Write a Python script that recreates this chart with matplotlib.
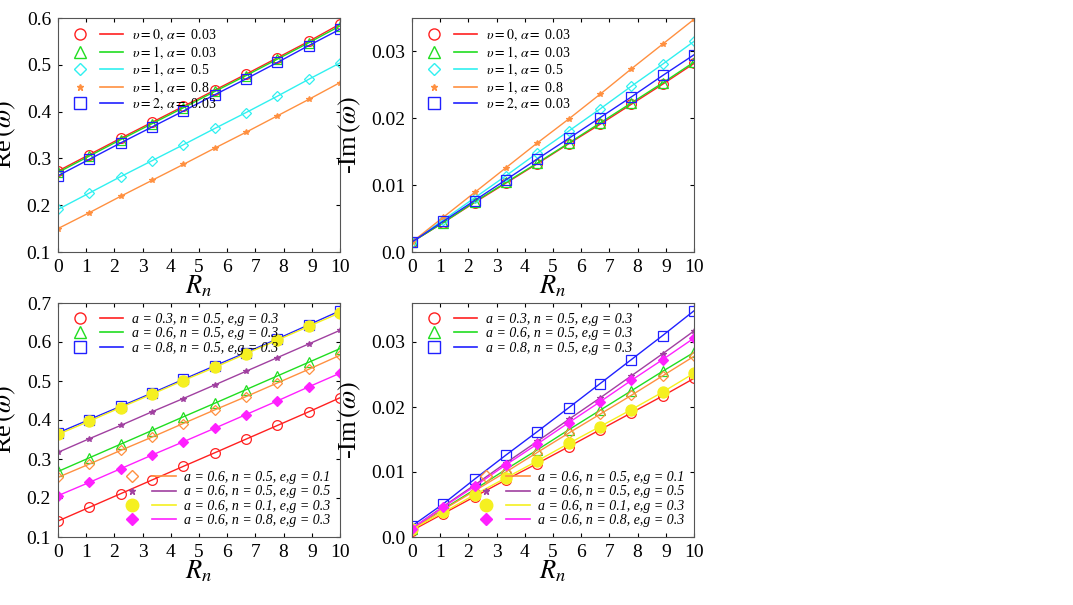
import matplotlib
matplotlib.use("Agg")
import matplotlib.pyplot as plt
from matplotlib.lines import Line2D
from matplotlib.legend_handler import HandlerTuple

plt.rcParams["font.family"] = "Liberation Serif"
plt.rcParams["mathtext.fontset"] = "stix"

rn = [0, 1.11, 2.22, 3.33, 4.44, 5.56, 6.67, 7.78, 8.89, 10]

# top left: Re(omega)
tl_v0_a003 = [0.273, 0.308, 0.343, 0.377, 0.411, 0.446, 0.480, 0.515, 0.550, 0.587]
tl_v1_a003 = [0.270, 0.305, 0.340, 0.374, 0.408, 0.443, 0.477, 0.512, 0.547, 0.583]
tl_v1_a05 = [0.191, 0.226, 0.261, 0.295, 0.329, 0.364, 0.398, 0.433, 0.469, 0.504]
tl_v1_a08 = [0.150, 0.184, 0.219, 0.253, 0.287, 0.322, 0.356, 0.391, 0.426, 0.462]
tl_v2_a003 = [0.263, 0.298, 0.333, 0.367, 0.401, 0.436, 0.470, 0.505, 0.541, 0.576]

# top right: -Im(omega), in units of 1e-2
tr_v0_a003 = [0.15, 0.44, 0.74, 1.03, 1.32, 1.62, 1.91, 2.21, 2.51, 2.82]
tr_v1_a003 = [0.15, 0.44, 0.75, 1.04, 1.33, 1.63, 1.93, 2.23, 2.53, 2.84]
tr_v1_a05 = [0.15, 0.48, 0.81, 1.14, 1.48, 1.81, 2.14, 2.48, 2.81, 3.15]
tr_v1_a08 = [0.15, 0.52, 0.89, 1.26, 1.63, 1.99, 2.36, 2.74, 3.11, 3.48]
tr_v2_a003 = [0.15, 0.46, 0.77, 1.08, 1.39, 1.70, 2.01, 2.32, 2.64, 2.95]

# bottom left: Re(omega)
bl_a03 = [0.141, 0.176, 0.211, 0.246, 0.281, 0.316, 0.351, 0.386, 0.421, 0.457]
bl_a06 = [0.268, 0.303, 0.338, 0.373, 0.408, 0.443, 0.478, 0.513, 0.548, 0.583]
bl_a08 = [0.367, 0.401, 0.435, 0.469, 0.504, 0.539, 0.573, 0.608, 0.644, 0.680]
bl_eg01 = [0.253, 0.287, 0.322, 0.356, 0.391, 0.426, 0.460, 0.495, 0.530, 0.566]
bl_eg05 = [0.317, 0.352, 0.386, 0.421, 0.455, 0.490, 0.525, 0.560, 0.595, 0.630]
bl_n01 = [0.363, 0.397, 0.432, 0.466, 0.501, 0.535, 0.570, 0.605, 0.640, 0.675]
bl_n08 = [0.206, 0.240, 0.275, 0.310, 0.344, 0.379, 0.414, 0.449, 0.485, 0.520]

# bottom right: -Im(omega), in units of 1e-2
br_a03 = [0.10, 0.36, 0.62, 0.88, 1.13, 1.39, 1.65, 1.91, 2.17, 2.44]
br_a06 = [0.12, 0.43, 0.73, 1.04, 1.34, 1.65, 1.95, 2.25, 2.55, 2.84]
br_a08 = [0.17, 0.51, 0.89, 1.26, 1.62, 1.99, 2.36, 2.73, 3.10, 3.48]
br_eg01 = [0.12, 0.42, 0.71, 1.00, 1.30, 1.60, 1.89, 2.18, 2.48, 2.78]
br_eg05 = [0.13, 0.47, 0.80, 1.14, 1.47, 1.81, 2.14, 2.48, 2.82, 3.17]
br_n01 = [0.12, 0.38, 0.65, 0.91, 1.17, 1.44, 1.70, 1.96, 2.23, 2.52]
br_n08 = [0.13, 0.46, 0.78, 1.11, 1.43, 1.76, 2.08, 2.41, 2.73, 3.06]

top_labels = [r"$\upsilon = 0,\, \alpha =$ 0.03", r"$\upsilon = 1,\, \alpha =$ 0.03",
              r"$\upsilon = 1,\, \alpha =$ 0.5", r"$\upsilon = 1,\, \alpha =$ 0.8",
              r"$\upsilon = 2,\, \alpha =$ 0.03"]
bot_labels = ["a = 0.3, n = 0.5, e,g = 0.3", "a = 0.6, n = 0.5, e,g = 0.3",
              "a = 0.8, n = 0.5, e,g = 0.3", "a = 0.6, n = 0.5, e,g = 0.1",
              "a = 0.6, n = 0.5, e,g = 0.5", "a = 0.6, n = 0.1, e,g = 0.3",
              "a = 0.6, n = 0.8, e,g = 0.3"]

RED, GREEN, CYAN, ORANGE, BLUE = "#ff2020", "#20dd20", "#30f0f0", "#ff9040", "#2020ff"
PURPLE, YELLOW, MAGENTA = "#a040a0", "#f5f020", "#ff20ff"

top_style = [("o", RED, 7, "none"), ("^", GREEN, 7, "none"), ("D", CYAN, 5, "none"),
             ("*", ORANGE, 4, ORANGE), ("s", BLUE, 7, "none")]
bot_style = [("o", RED, 7, "none"), ("^", GREEN, 7, "none"), ("s", BLUE, 7, "none"),
             ("D", ORANGE, 5, "none"), ("*", PURPLE, 4, PURPLE),
             ("o", YELLOW, 8, YELLOW), ("D", MAGENTA, 5, MAGENTA)]


def draw(ax, series, styles):
    handles = []
    for ys, (m, c, ms, fc) in zip(series, styles):
        ax.plot(rn, ys, color=c, lw=1, marker=m, ms=ms, mfc=fc, mec=c, mew=0.9)
        mk = Line2D([], [], ls="none", marker=m, ms=ms + 1, mfc=fc, mec=c, mew=1)
        ln = Line2D([], [], color=c, lw=1.2)
        handles.append((mk, ln))
    return handles


def style_axes(ax, ylabel):
    ax.set_xlim(0, 10)
    ax.set_xticks(range(11))
    ax.set_xlabel(r"$R_n$", fontsize=19, labelpad=-2)
    ax.set_ylabel(ylabel, fontsize=19, labelpad=6)
    ax.tick_params(direction="in", labelsize=14, top=True, right=True,
                   length=3, pad=5)
    for s in ax.spines.values():
        s.set_color("#555555")


fig = plt.figure(figsize=(10.73, 6.05), dpi=100)
w, h = 282 / 1073, 234 / 605
ax1 = fig.add_axes([58 / 1073, 1 - 252 / 605, w, h])
ax2 = fig.add_axes([412 / 1073, 1 - 252 / 605, w, h])
ax3 = fig.add_axes([58 / 1073, 1 - 537 / 605, w, h])
ax4 = fig.add_axes([412 / 1073, 1 - 537 / 605, w, h])

leg_kw = dict(frameon=False, handlelength=4.0, labelspacing=0.1, borderaxespad=0.3,
              handletextpad=0.6, handler_map={tuple: HandlerTuple(ndivide=2, pad=0.6)})

hs = draw(ax1, [tl_v0_a003, tl_v1_a003, tl_v1_a05, tl_v1_a08, tl_v2_a003], top_style)
ax1.set_ylim(0.1, 0.6)
style_axes(ax1, r"Re$\,(\omega)$")
ax1.legend(hs, top_labels, loc="upper left", fontsize=10, **leg_kw)

hs = draw(ax2, [tr_v0_a003, tr_v1_a003, tr_v1_a05, tr_v1_a08, tr_v2_a003], top_style)
ax2.set_ylim(0, 3.5)
ax2.set_yticks([0, 1, 2, 3])
ax2.set_yticklabels(["0.0", "0.01", "0.02", "0.03"])
style_axes(ax2, r"-Im$\,(\omega)$")
ax2.legend(hs, top_labels, loc="upper left", fontsize=10, **leg_kw)

lp = dict(prop={"family": "Liberation Serif", "style": "italic", "size": 10}, **leg_kw)

hs = draw(ax3, [bl_a03, bl_a06, bl_a08, bl_eg01, bl_eg05, bl_n01, bl_n08], bot_style)
ax3.set_ylim(0.1, 0.7)
style_axes(ax3, r"Re$\,(\omega)$")
l1 = ax3.legend(hs[:3], bot_labels[:3], loc="upper left", **lp)
ax3.add_artist(l1)
ax3.legend(hs[3:], bot_labels[3:], loc="lower right", **lp)

hs = draw(ax4, [br_a03, br_a06, br_a08, br_eg01, br_eg05, br_n01, br_n08], bot_style)
ax4.set_ylim(0, 3.6)
ax4.set_yticks([0, 1, 2, 3])
ax4.set_yticklabels(["0.0", "0.01", "0.02", "0.03"])
style_axes(ax4, r"-Im$\,(\omega)$")
l2 = ax4.legend(hs[:3], bot_labels[:3], loc="upper left", **lp)
ax4.add_artist(l2)
ax4.legend(hs[3:], bot_labels[3:], loc="lower right", **lp)

fig.savefig("out.png", dpi=100)
